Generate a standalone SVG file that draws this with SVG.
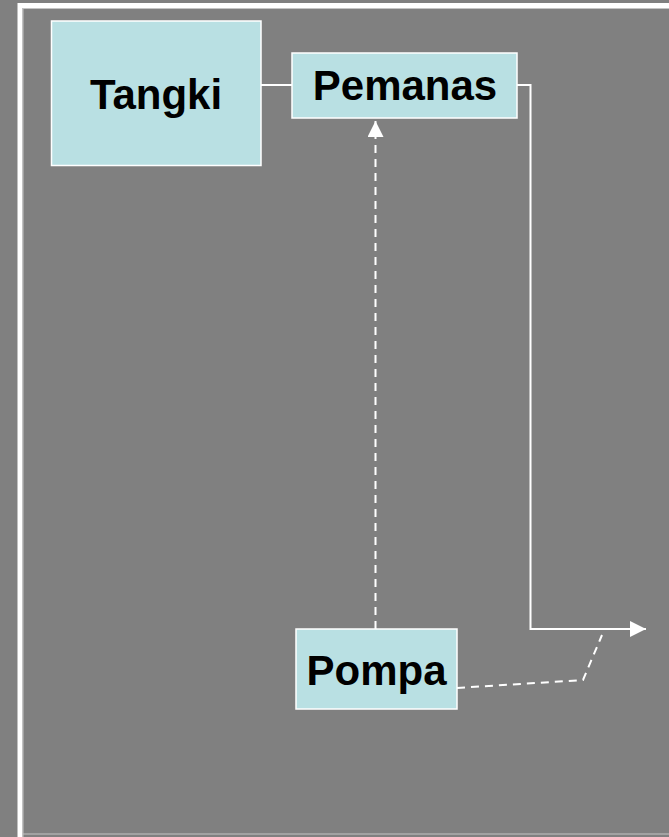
<svg xmlns="http://www.w3.org/2000/svg" width="669" height="837" viewBox="0 0 669 837">
<defs>
<style>
.box{fill:#B9E0E3;stroke:#FFFFFF;stroke-width:1.5}
.lbl{font-family:"Liberation Sans",Arial,sans-serif;font-weight:bold;font-size:42px;fill:#000000;text-anchor:middle}
.solid{fill:none;stroke:#FFFFFF;stroke-width:2}
.dash{fill:none;stroke:#FFFFFF;stroke-width:2;stroke-dasharray:8,6}
</style>
<marker id="ah" markerWidth="16" markerHeight="16" refX="16" refY="8" orient="auto" markerUnits="userSpaceOnUse">
<path d="M0,0 L16,8 L0,16 Z" fill="#FFFFFF"/>
</marker>
</defs>
<rect x="0" y="0" width="669" height="837" fill="#808080"/>
<g id="frame">
<path d="M17.5,837 L17.5,3 L669,3 L669,8 L22.5,8 L22.5,837 Z" fill="#FFFFFF"/>
<path d="M23,837 L23,8.5 L669,8.5 M23,834 L669,834" fill="none" stroke="#C4C4C4" stroke-width="1"/>
</g>
<g id="connectors">
<line class="solid" x1="261" y1="85" x2="292" y2="85"/>
<polyline class="solid" points="517,85 530.5,85 530.5,629 646,629" marker-end="url(#ah)"/>
<line class="dash" x1="375.5" y1="629" x2="375.5" y2="121" marker-end="url(#ah)"/>
<polyline class="dash" points="457,688 583,680 602,635"/>
</g>
<g id="tangki">
<rect class="box" x="51.5" y="21" width="209.5" height="144.5"/>
<text class="lbl" x="156" y="109">Tangki</text>
</g>
<g id="pemanas">
<rect class="box" x="292" y="53" width="225" height="65"/>
<text class="lbl" x="405" y="100">Pemanas</text>
</g>
<g id="pompa">
<rect class="box" x="296" y="629" width="161" height="80"/>
<text class="lbl" x="376.5" y="685">Pompa</text>
</g>
</svg>
